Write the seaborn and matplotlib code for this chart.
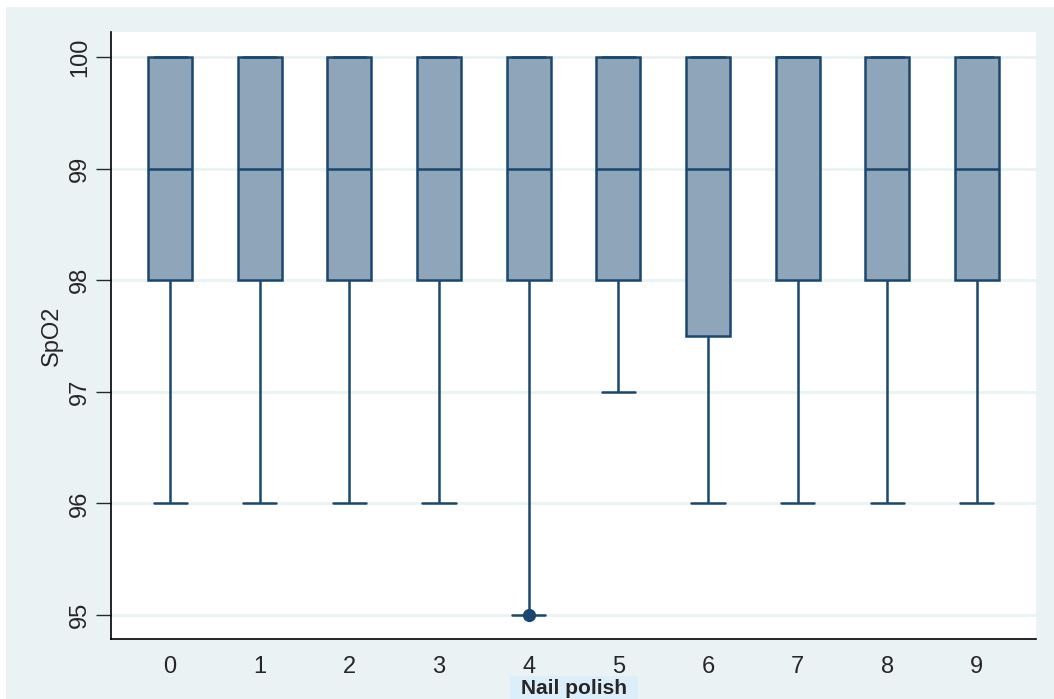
import pandas as pd
import numpy as np
import matplotlib
matplotlib.use('Agg')
import matplotlib.pyplot as plt
from matplotlib.patches import Rectangle
import seaborn as sns

# Datos del boxplot
grupos = [0, 1, 2, 3, 4, 5, 6, 7, 8, 9]
bigote_inf = [96, 96, 96, 96, 95, 97, 96, 96, 96, 96]
q1 = [98, 98, 98, 98, 98, 98, 97.5, 98, 98, 98]
mediana = [99, 99, 99, 99, 99, 99, 99, 100, 99, 99]
q3 = [100, 100, 100, 100, 100, 100, 100, 100, 100, 100]
bigote_sup = [100, 100, 100, 100, 100, 100, 100, 100, 100, 100]
atipico_grupo = [4]
atipico_valor = [95]

# Se arma un DataFrame largo con cinco valores por grupo que reproducen los cuartiles
filas = []
for i, g in enumerate(grupos):
    for v in [bigote_inf[i], q1[i], mediana[i], q3[i], bigote_sup[i]]:
        filas.append({'nail': g, 'spo2': v})
df = pd.DataFrame(filas)

azul = '#1A476F'
relleno = '#8FA5B9'
fondo = '#EAF2F3'

sns.set_style('white')
plt.rcParams['font.family'] = ['Liberation Sans', 'DejaVu Sans']

fig = plt.figure(figsize=(10.54, 6.99), dpi=100)
fig.patches.append(Rectangle((6 / 1054, 0), 1, (699 - 7) / 699, transform=fig.transFigure,
                             facecolor=fondo, edgecolor='none', zorder=-10))
ax = fig.add_axes([111 / 1054, 1 - 639 / 699, 925 / 1054, 607 / 699])
ax.set_facecolor('white')

for y in range(95, 101):
    ax.axhline(y, color=fondo, lw=2, zorder=0)

sns.boxplot(data=df, x='nail', y='spo2', order=grupos, ax=ax, color=relleno, saturation=1,
            linecolor=azul, linewidth=1.8, width=0.49, whis=1.5, showfliers=False,
            capwidths=0.37)
sns.stripplot(x=atipico_grupo, y=atipico_valor, order=grupos, jitter=False, color=azul,
              size=9.5, ax=ax, zorder=5)

ax.set_xlim(-0.66, 9.66)
ax.set_ylim(94.785, 100.224)
ax.set_yticks(range(95, 101))
ax.set_yticklabels([str(v) for v in range(95, 101)], rotation=90, va='center')
ax.set_xticks(range(len(grupos)))
ax.set_xticklabels([str(g) for g in grupos])
ax.tick_params(axis='y', length=11, width=1, pad=3.5, labelsize=17, left=True)
ax.tick_params(axis='x', length=0, pad=12, labelsize=17)

for s in ['top', 'right']:
    ax.spines[s].set_visible(False)
for s in ['left', 'bottom']:
    ax.spines[s].set_color('black')
    ax.spines[s].set_linewidth(1.2)

ax.set_xlabel('')
ax.set_ylabel('SpO2', fontsize=17)
ax.yaxis.set_label_coords(-0.052, 0.5)

# Etiqueta del eje x con fondo celeste, al estilo Stata
fig.patches.append(Rectangle((510 / 1054, 0), 128 / 1054, 23 / 699, transform=fig.transFigure,
                             facecolor='#DCEEFA', edgecolor='none', zorder=-5))
fig.text(574 / 1054, 1 - 689 / 699, 'Nail polish', ha='center', va='center',
         fontsize=15, fontweight='bold')

fig.savefig('out.png', dpi=100)
